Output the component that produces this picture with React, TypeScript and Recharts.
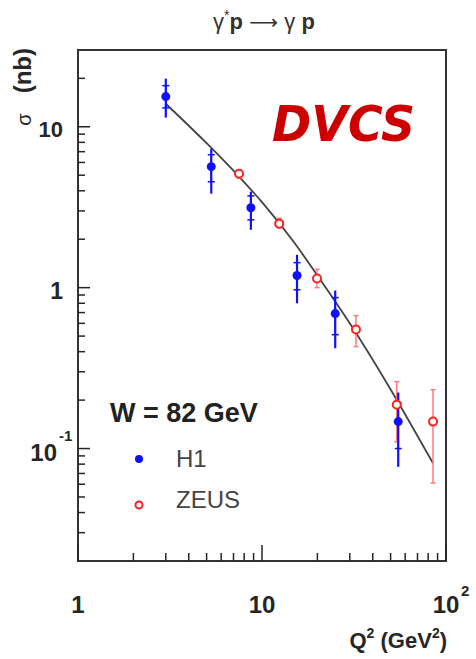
import { ComposedChart, Scatter, Line, XAxis, YAxis, ErrorBar, ReferenceArea } from "recharts";

// H1 (filled blue)
const h1Q2 = [3.0, 5.3, 8.7, 15.5, 25, 55];
const h1Sigma = [15.4, 5.65, 3.14, 1.19, 0.69, 0.147];
const h1TotLo = [11.4, 3.84, 2.29, 0.8, 0.42, 0.077];
const h1TotHi = [19.9, 7.3, 3.95, 1.6, 0.96, 0.223];
const h1StatLo = [13.1, 4.55, 2.64, 0.97, 0.51, 0.1];
const h1StatHi = [18.0, 6.7, 3.72, 1.43, 0.867, 0.193];

// ZEUS (open red)
const zeusQ2 = [7.5, 12.4, 19.9, 32.4, 54, 85];
const zeusSigma = [5.1, 2.5, 1.14, 0.55, 0.187, 0.147];
const zeusLo = [4.8, 2.35, 1.0, 0.43, 0.11, 0.061];
const zeusHi = [5.4, 2.7, 1.3, 0.67, 0.26, 0.232];

// model curve
const curveQ2 = [3, 5, 7.5, 10, 15, 20, 30, 50, 85];
const curveSigma = [13.9, 7.9, 4.9, 3.4, 1.9, 1.19, 0.6, 0.233, 0.081];

const xTicks = [1, 2, 3, 4, 5, 6, 7, 8, 9, 10, 20, 30, 40, 50, 60, 70, 80, 90, 100];
const xMajor = [1, 10, 100];
const yTicks = [
  0.03, 0.04, 0.05, 0.06, 0.07, 0.08, 0.09, 0.1, 0.2, 0.3, 0.4, 0.5, 0.6, 0.7, 0.8, 0.9,
  1, 2, 3, 4, 5, 6, 7, 8, 9, 10, 20,
];
const yMajor = [0.1, 1, 10];

const h1 = h1Q2.map((q2, i) => ({
  q2,
  sigma: h1Sigma[i],
  tot: [h1Sigma[i] - h1TotLo[i], h1TotHi[i] - h1Sigma[i]],
  stat: [h1Sigma[i] - h1StatLo[i], h1StatHi[i] - h1Sigma[i]],
}));
const zeus = zeusQ2.map((q2, i) => ({
  q2,
  sigma: zeusSigma[i],
  err: [zeusSigma[i] - zeusLo[i], zeusHi[i] - zeusSigma[i]],
}));
const curve = curveQ2.map((q2, i) => ({ q2, sigma: curveSigma[i] }));

const font = "'Liberation Sans', Arial, sans-serif";
const ink = "#262626";

function XTick(props: any) {
  const { x, y, payload } = props;
  const v = payload.value;
  const major = xMajor.includes(v);
  return (
    <g>
      <line x1={x} x2={x} y1={y} y2={y - (major ? 16 : 8)} stroke={ink} strokeWidth={1.5} />
      {major && (
        <text x={x} y={y + 52} textAnchor="middle" fontFamily={font} fontWeight="bold" fontSize={24} fill={ink}>
          {v === 100 ? "10" : String(v)}
        </text>
      )}
      {v === 100 && (
        <text x={x + 15} y={y + 35} fontFamily={font} fontWeight="bold" fontSize={15} fill={ink}>
          2
        </text>
      )}
    </g>
  );
}

function YTick(props: any) {
  const { x, y, payload } = props;
  const v = payload.value;
  const major = yMajor.includes(v);
  return (
    <g>
      <line x1={x} x2={x + (major ? 12 : 7)} y1={y} y2={y} stroke={ink} strokeWidth={1.5} />
      {v === 10 && (
        <text x={x - 15} y={y + 10} textAnchor="end" fontFamily={font} fontWeight="bold" fontSize={22} fill={ink}>
          10
        </text>
      )}
      {v === 1 && (
        <text x={x - 15} y={y + 11} textAnchor="end" fontFamily={font} fontWeight="bold" fontSize={23} fill={ink}>
          1
        </text>
      )}
      {v === 0.1 && (
        <g>
          <text x={x - 21} y={y + 12} textAnchor="end" fontFamily={font} fontWeight="bold" fontSize={24} fill={ink}>
            10
          </text>
          <text x={x - 19} y={y - 8} fontFamily={font} fontWeight="bold" fontSize={15} fill={ink}>
            -1
          </text>
        </g>
      )}
    </g>
  );
}

export default function App() {
  return (
    <div style={{ position: "absolute", left: 0, top: 0, width: 476, height: 659, background: "#fff" }}>
      <ComposedChart width={476} height={659} margin={{ top: 50, right: 30, bottom: 0, left: 0 }}>
        <XAxis
          type="number"
          dataKey="q2"
          scale="log"
          domain={[1, 100]}
          allowDataOverflow
          ticks={xTicks}
          interval={0}
          tickSize={0}
          tickMargin={0}
          axisLine={false}
          tickLine={false}
          height={98}
          tick={<XTick />}
        />
        <YAxis
          type="number"
          dataKey="sigma"
          scale="log"
          domain={[0.02, 30]}
          allowDataOverflow
          ticks={yTicks}
          interval={0}
          tickSize={0}
          tickMargin={0}
          axisLine={false}
          tickLine={false}
          width={78}
          tick={<YTick />}
        />
        <ReferenceArea x1={1} x2={100} y1={0.02} y2={30} fill="none" stroke="#333" strokeWidth={2} ifOverflow="visible" />
        <Line
          data={curve}
          dataKey="sigma"
          type="monotone"
          stroke="#444"
          strokeWidth={1.8}
          dot={false}
          isAnimationActive={false}
        />
        <Scatter
          data={zeus}
          isAnimationActive={false}
          shape={(p: any) => <circle cx={p.cx} cy={p.cy} r={4} fill="#fff" stroke="#ff2020" strokeWidth={2} />}
        >
          <ErrorBar dataKey="err" direction="y" width={2.5} stroke="#ff7a7a" strokeWidth={1.5} />
        </Scatter>
        <Scatter
          data={h1}
          isAnimationActive={false}
          shape={(p: any) => <circle cx={p.cx} cy={p.cy} r={4.5} fill="#1010ff" />}
        >
          <ErrorBar dataKey="tot" direction="y" width={0} stroke="#1010ff" strokeWidth={2.2} />
          <ErrorBar dataKey="stat" direction="y" width={3.5} stroke="#1010ff" strokeWidth={1.5} />
        </Scatter>
      </ComposedChart>
      <svg width={476} height={659} style={{ position: "absolute", left: 0, top: 0, pointerEvents: "none" }}>
        <text x={264} y={29} textAnchor="middle" fontFamily={font} fontSize={22} fill="#333">
          γ
          <tspan fontSize={14} dy={-9}>*</tspan>
          <tspan fontWeight="bold" dy={9}>p</tspan>
          <tspan fontFamily="'DejaVu Sans', sans-serif" fontSize={20}>{" ⟶ "}</tspan>
          {"γ "}
          <tspan fontWeight="bold">p</tspan>
        </text>
        <text
          x={272}
          y={141}
          fontFamily="'DejaVu Sans', sans-serif"
          fontStyle="italic"
          fontWeight="bold"
          fontSize={50}
          fill="#cc0000"
          textLength={143}
          lengthAdjust="spacingAndGlyphs"
        >
          DVCS
        </text>
        <text
          transform="translate(31,48) rotate(-90)"
          textAnchor="end"
          fontFamily={font}
          fontSize={24}
          fill={ink}
        >
          <tspan fontSize={20}>σ</tspan>
          <tspan dx={20} fontWeight="bold">(nb)</tspan>
        </text>
        <text x={447} y={648} textAnchor="end" fontFamily={font} fontWeight="bold" fontSize={22} fill={ink}>
          Q<tspan fontSize={14} dy={-10}>2</tspan>
          <tspan dy={10}>{"  (GeV"}</tspan>
          <tspan fontSize={14} dy={-10}>2</tspan>
          <tspan dy={10}>)</tspan>
        </text>
        <text x={110} y={422} fontFamily={font} fontWeight="bold" fontSize={27} fill="#222">
          W = 82 GeV
        </text>
        <circle cx={139} cy={459} r={4} fill="#1010ff" />
        <text x={176} y={467} fontFamily={font} fontSize={24} fill="#444">
          H1
        </text>
        <circle cx={139} cy={505} r={3.5} fill="#fff" stroke="#ff2020" strokeWidth={2} />
        <text x={176} y={508} fontFamily={font} fontSize={24} fill="#444">
          ZEUS
        </text>
      </svg>
    </div>
  );
}
